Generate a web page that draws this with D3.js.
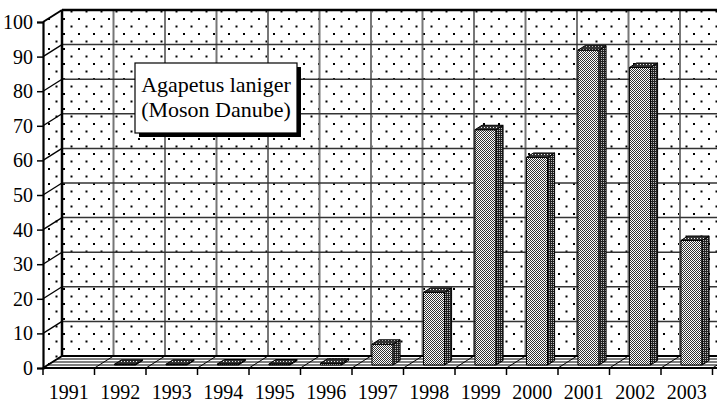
<!DOCTYPE html>
<html>
<head>
<meta charset="utf-8">
<script src="https://cdn.jsdelivr.net/npm/d3@7"></script>
<style>
  body { margin: 0; background: #fff; }
</style>
</head>
<body>
<svg width="717" height="405"></svg>
<script>
// data
var years = ["1991", "1992", "1993", "1994", "1995", "1996", "1997",
             "1998", "1999", "2000", "2001", "2002", "2003"];
var values = [0, 0.2, 0.2, 0.3, 0.3, 0.5, 6, 21, 68, 60, 91, 86, 36];
var yTicks = [0, 10, 20, 30, 40, 50, 60, 70, 80, 90, 100];
var titleLines = ["Agapetus laniger", "(Moson Danube)"];

var serif = "'Liberation Serif', 'Times New Roman', serif";

var svg = d3.select("svg"),
    width = +svg.attr("width"),
    left = 43,
    bottom = 368,
    depth = {x: 19, y: -12},   // offset of the back wall
    barDepth = [0.25, 0.62];   // bars stand in the middle of the floor

var x = d3.scaleBand().domain(years).range([left, left + 13 * 51.5]).padding(0),
    y = d3.scaleLinear().domain([0, 100]).range([bottom, 22]);

var bw = x.bandwidth() * 0.41;

// patterns
var defs = svg.append("defs");

var dots = defs.append("pattern").attr("id", "dots")
    .attr("patternUnits", "userSpaceOnUse").attr("width", 15).attr("height", 15);
dots.append("rect").attr("width", 15).attr("height", 15).attr("fill", "#fff");
dots.append("rect").attr("x", 3).attr("y", 3).attr("width", 2).attr("height", 2).attr("fill", "#000");
dots.append("rect").attr("x", 10.5).attr("y", 10.5).attr("width", 2).attr("height", 2).attr("fill", "#000");

var checker = defs.append("pattern").attr("id", "checker")
    .attr("patternUnits", "userSpaceOnUse").attr("width", 2).attr("height", 2);
checker.append("rect").attr("width", 2).attr("height", 2).attr("fill", "#fff");
checker.append("rect").attr("width", 1).attr("height", 1).attr("fill", "#333");
checker.append("rect").attr("x", 1).attr("y", 1).attr("width", 1).attr("height", 1).attr("fill", "#333");

var sidePat = defs.append("pattern").attr("id", "side")
    .attr("patternUnits", "userSpaceOnUse").attr("width", 2).attr("height", 2);
sidePat.append("rect").attr("width", 2).attr("height", 2).attr("fill", "#222");
sidePat.append("rect").attr("x", 1).attr("width", 1).attr("height", 1).attr("fill", "#bbb");

var topPat = defs.append("pattern").attr("id", "top")
    .attr("patternUnits", "userSpaceOnUse").attr("width", 3).attr("height", 3);
topPat.append("rect").attr("width", 3).attr("height", 3).attr("fill", "#333");
topPat.append("rect").attr("x", 1).attr("y", 1).attr("width", 1).attr("height", 1).attr("fill", "#eee");

function pts(a) { return a.map(function(p) { return p.join(","); }).join(" "); }

var right = width + 30,
    yTop = y(100), yBot = y(0);

// left wall
svg.append("polygon")
    .attr("points", pts([[left, yBot], [left, yTop], [left + depth.x, yTop + depth.y], [left + depth.x, yBot + depth.y]]))
    .attr("fill", "url(#dots)");

// back wall
svg.append("rect")
    .attr("x", left + depth.x).attr("y", yTop + depth.y)
    .attr("width", right - left).attr("height", yBot - yTop)
    .attr("fill", "url(#dots)");

// back wall gridlines
var bounds = years.map(function(d) { return x(d); }).concat([x.range()[1]]);

svg.append("g").selectAll("line")
    .data(bounds.slice(1))
    .enter().append("line")
      .attr("x1", function(d) { return d + depth.x; })
      .attr("x2", function(d) { return d + depth.x; })
      .attr("y1", yTop + depth.y).attr("y2", yBot + depth.y)
      .attr("stroke", "#777").attr("stroke-width", 2);

svg.append("g").selectAll("line")
    .data(yTicks.slice(1, -1))
    .enter().append("line")
      .attr("x1", left + depth.x).attr("x2", right)
      .attr("y1", function(d) { return y(d) + depth.y; })
      .attr("y2", function(d) { return y(d) + depth.y; })
      .attr("stroke", "#333").attr("stroke-width", 1.5);

// left wall gridlines
svg.append("g").selectAll("line")
    .data(yTicks.slice(1, -1))
    .enter().append("line")
      .attr("x1", left).attr("x2", left + depth.x)
      .attr("y1", function(d) { return y(d); })
      .attr("y2", function(d) { return y(d) + depth.y; })
      .attr("stroke", "#000").attr("stroke-width", 1.3);

// floor
svg.append("polygon")
    .attr("points", pts([[left, yBot], [left + depth.x, yBot + depth.y], [right, yBot + depth.y], [right, yBot]]))
    .attr("fill", "#fff");

svg.append("g").selectAll("line")
    .data([0.25, 0.5, 0.75])
    .enter().append("line")
      .attr("x1", function(d) { return left + d * depth.x; })
      .attr("x2", right)
      .attr("y1", function(d) { return yBot + d * depth.y; })
      .attr("y2", function(d) { return yBot + d * depth.y; })
      .attr("stroke", "#000").attr("stroke-width", 1.2);

svg.append("g").selectAll("line")
    .data(bounds)
    .enter().append("line")
      .attr("x1", function(d) { return d; })
      .attr("x2", function(d) { return d + depth.x; })
      .attr("y1", yBot).attr("y2", yBot + depth.y)
      .attr("stroke", "#000").attr("stroke-width", 1);

// frame lines
var frame = svg.append("g").attr("fill", "none").attr("stroke", "#000");
frame.append("line").attr("x1", left + depth.x).attr("x2", left + depth.x)
    .attr("y1", yTop + depth.y).attr("y2", yBot + depth.y).attr("stroke-width", 2.5);
frame.append("line").attr("x1", left + depth.x).attr("x2", right)
    .attr("y1", yTop + depth.y).attr("y2", yTop + depth.y).attr("stroke-width", 2.5);
frame.append("line").attr("x1", left + depth.x).attr("x2", right)
    .attr("y1", yBot + depth.y).attr("y2", yBot + depth.y).attr("stroke-width", 2);
frame.append("line").attr("x1", left).attr("x2", left + depth.x)
    .attr("y1", yTop).attr("y2", yTop + depth.y).attr("stroke-width", 2);
frame.append("line").attr("x1", left).attr("x2", left + depth.x)
    .attr("y1", yBot).attr("y2", yBot + depth.y).attr("stroke-width", 2);

// bars
var d0x = barDepth[0] * depth.x, d0y = barDepth[0] * depth.y,
    ddx = (barDepth[1] - barDepth[0]) * depth.x,
    ddy = (barDepth[1] - barDepth[0]) * depth.y;

var bars = svg.append("g").selectAll("g")
    .data(years.map(function(d, i) { return {year: d, value: values[i]}; })
      .filter(function(d) { return d.value > 0; }))
    .enter().append("g")
      .attr("stroke", "#000").attr("stroke-width", 1).attr("stroke-linejoin", "round");

bars.append("rect")
    .attr("x", function(d) { return x(d.year) + x.bandwidth() / 2 - bw / 2 + d0x; })
    .attr("y", function(d) { return y(d.value) + d0y; })
    .attr("width", bw)
    .attr("height", function(d) { return yBot - y(d.value); })
    .attr("fill", "url(#checker)");

bars.append("polygon")
    .attr("points", function(d) {
      var x1 = x(d.year) + x.bandwidth() / 2 + bw / 2 + d0x,
          t = y(d.value) + d0y, b = yBot + d0y;
      return pts([[x1, t], [x1 + ddx, t + ddy], [x1 + ddx, b + ddy], [x1, b]]);
    })
    .attr("fill", "url(#side)");

bars.append("polygon")
    .attr("points", function(d) {
      var x0 = x(d.year) + x.bandwidth() / 2 - bw / 2 + d0x,
          t = y(d.value) + d0y;
      return pts([[x0, t], [x0 + ddx, t + ddy], [x0 + bw + ddx, t + ddy], [x0 + bw, t]]);
    })
    .attr("fill", "url(#top)");

// front axes
var yAxis = svg.append("g")
    .attr("transform", "translate(" + left + ",0)")
    .call(d3.axisLeft(y).tickValues(yTicks).tickSize(6).tickPadding(4));
yAxis.select(".domain").attr("stroke-width", 2.2);
yAxis.selectAll(".tick line").attr("stroke-width", 1.5);
yAxis.selectAll("text")
    .attr("font-family", serif).attr("font-size", 20).attr("fill", "#000");

var xAxis = svg.append("g")
    .attr("transform", "translate(0," + bottom + ")")
    .call(d3.axisBottom(x).tickSize(0).tickPadding(17));
xAxis.select(".domain").remove();
xAxis.selectAll("text")
    .attr("font-family", serif).attr("font-size", 20).attr("fill", "#000");

svg.append("line").attr("x1", left).attr("x2", right)
    .attr("y1", bottom).attr("y2", bottom)
    .attr("stroke", "#000").attr("stroke-width", 2.2);

svg.append("g").selectAll("line")
    .data(bounds)
    .enter().append("line")
      .attr("x1", function(d) { return d; }).attr("x2", function(d) { return d; })
      .attr("y1", bottom).attr("y2", bottom + 7)
      .attr("stroke", "#000").attr("stroke-width", 1.5);

// title box with shadow
var box = svg.append("g").attr("transform", "translate(135,63)");
box.append("rect").attr("x", 4).attr("y", 4).attr("width", 162).attr("height", 70).attr("fill", "#000");
box.append("rect").attr("width", 162).attr("height", 70)
    .attr("fill", "#fff").attr("stroke", "#000").attr("stroke-width", 1.2);
box.selectAll("text")
    .data(titleLines)
    .enter().append("text")
      .attr("x", 81)
      .attr("y", function(d, i) { return 29 + i * 25; })
      .attr("text-anchor", "middle")
      .attr("font-family", serif)
      .attr("font-size", 22)
      .text(function(d) { return d; });
</script>
</body>
</html>
